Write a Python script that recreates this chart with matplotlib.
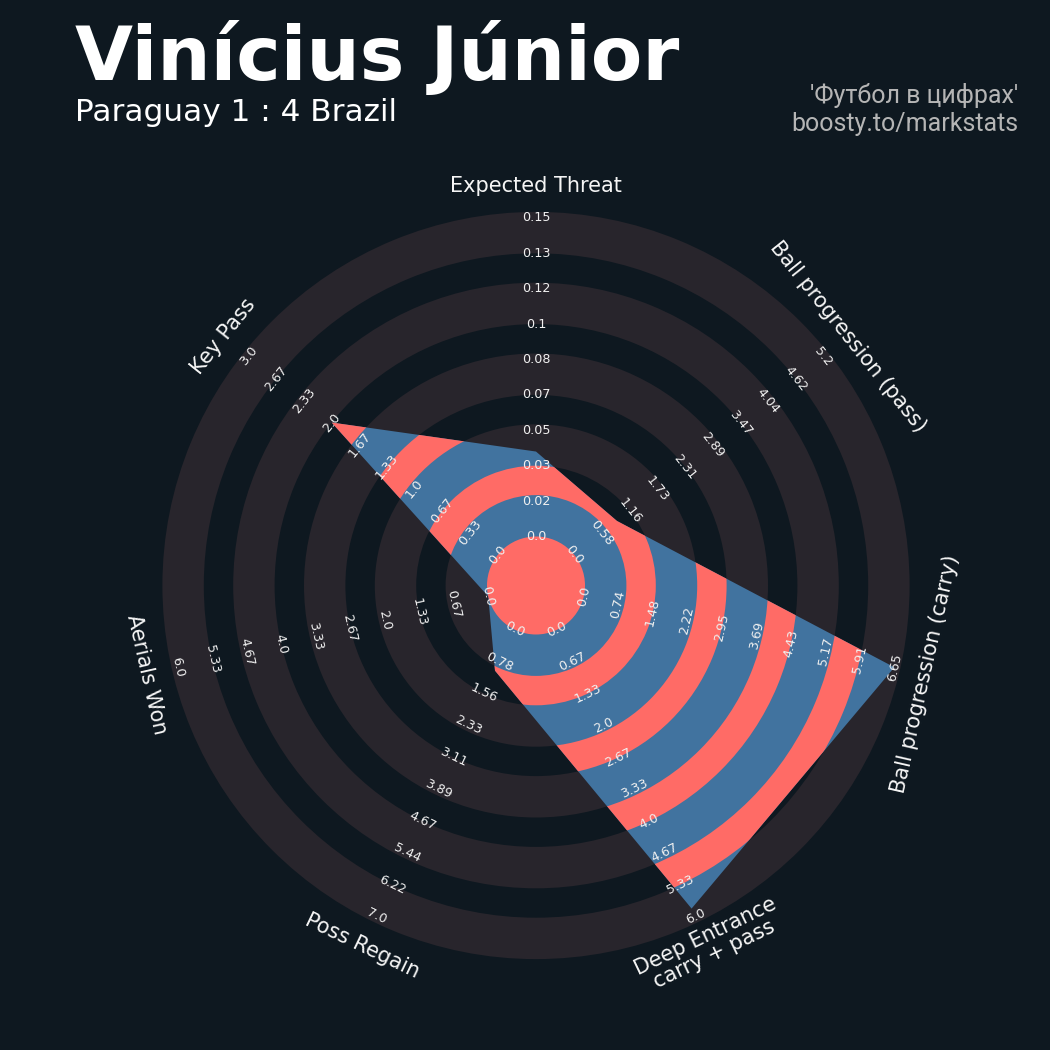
import numpy as np
import matplotlib
matplotlib.use("Agg")
import matplotlib.pyplot as plt
from matplotlib.patches import Polygon, Wedge, Circle

# ---------------- data ----------------
params = ["Expected Threat", "Ball progression (pass)", "Ball progression (carry)",
          "Deep Entrance\ncarry + pass", "Poss Regain", "Aerials Won", "Key Pass"]
values = [0.04, 0.89, 6.646, 5.83, 1.0, 0.0, 2.0]
min_range = [0, 0, 0, 0, 0, 0, 0]
max_range = [0.15, 5.2, 6.646, 6.0, 7.0, 6.0, 3.0]

title = "Vinícius Júnior"
subtitle = "Paraguay 1 : 4 Brazil"
credit_1 = "'Футбол в цифрах'"
credit_2 = "boosty.to/markstats"

# ---------------- style ----------------
BG = '#0e1820'
RING = '#28252c'
BLUE = '#41739f'
RED = '#ff6b66'
W = H = 1050
CX, CY = 536, 585.5          # radar centre (pixels)
R0 = 49                      # centre circle radius
STEP = 35.4                  # ring step
N_RINGS = 9
R_MAX = R0 + STEP * N_RINGS
EXTRA = 6                    # light rings are slightly wider

fig = plt.figure(figsize=(10.5, 10.5), dpi=100, facecolor=BG)
ax = fig.add_axes([0, 0, 1, 1])
ax.set_xlim(-CX, W - CX)
ax.set_ylim(CY - H, CY)
ax.set_aspect('equal')
ax.axis('off')
ax.set_facecolor(BG)

n = len(params)
angles = np.deg2rad(90 - 360 / n * np.arange(n))

# background rings
for k in range(0, N_RINGS, 2):
    inner = R0 + k * STEP
    outer = R0 + (k + 1) * STEP + EXTRA
    ax.add_patch(Wedge((0, 0), outer, 0, 360, width=outer - inner,
                       facecolor=RING, edgecolor='none', zorder=1))

# radar polygon
vals = np.array(values, dtype=float)
mins = np.array(min_range, dtype=float)
maxs = np.array(max_range, dtype=float)
radii = R0 + (vals - mins) / (maxs - mins) * (R_MAX - R0)
verts = np.column_stack([radii * np.cos(angles), radii * np.sin(angles)])
poly = Polygon(verts, closed=True, facecolor=BLUE, edgecolor='none', zorder=2)
ax.add_patch(poly)

for k in range(1, N_RINGS, 2):
    inner = R0 + k * STEP + EXTRA
    outer = R0 + (k + 1) * STEP
    w = Wedge((0, 0), outer, 0, 360, width=outer - inner,
              facecolor=RED, edgecolor='none', zorder=3)
    ax.add_patch(w)
    w.set_clip_path(poly)

ax.add_patch(Circle((0, 0), R0, facecolor=RED, edgecolor='none', zorder=4))


def label_rotation(a):
    rot = np.rad2deg(a) - 90
    while rot > 90:
        rot -= 180
    while rot <= -90:
        rot += 180
    return rot


# range labels
for i in range(n):
    a = angles[i]
    rot = label_rotation(a)
    ring_vals = np.linspace(min_range[i], max_range[i], N_RINGS + 1)
    for j, rv in enumerate(ring_vals):
        r = R0 + j * STEP
        ax.text(r * np.cos(a), r * np.sin(a), str(round(float(rv), 2)),
                rotation=rot, rotation_mode='anchor', ha='center', va='center',
                fontsize=9.2, color='#f0f0f0', zorder=6)

# parameter labels
R_LABEL = R_MAX + 32
for i in range(n):
    a = angles[i]
    rot = label_rotation(a)
    ax.text(R_LABEL * np.cos(a), R_LABEL * np.sin(a), params[i],
            rotation=rot, rotation_mode='anchor', ha='center', va='center',
            fontsize=15, color='#f5f5f5', zorder=6, multialignment='center',
            linespacing=1.0)

# titles
fig.text(75 / W, 1 - 80 / H, title, fontsize=54, fontweight='bold',
         color='white', ha='left', va='baseline')
fig.text(75 / W, 1 - 121.5 / H, subtitle, fontsize=22.4,
         color='white', ha='left', va='baseline')
fig.text(1018 / W, 1 - 103 / H, credit_1, fontsize=18, family='Roboto',
         color='#b5b5b5', ha='right', va='baseline')
fig.text(1018 / W, 1 - 131.5 / H, credit_2, fontsize=18, family='Roboto',
         color='#b5b5b5', ha='right', va='baseline')

fig.savefig('out.png', dpi=100, facecolor=BG)
